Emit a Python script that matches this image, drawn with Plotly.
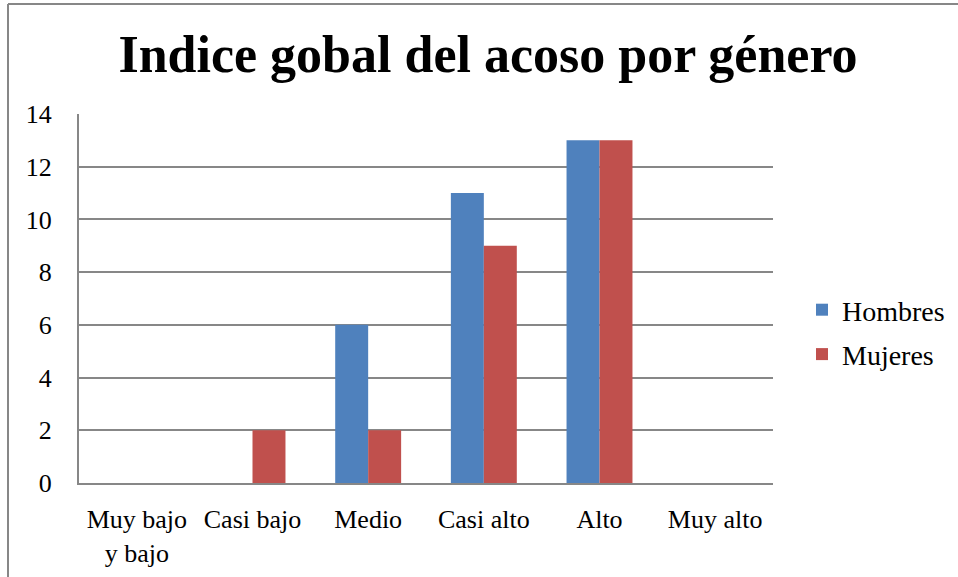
import plotly.graph_objects as go

categories = ["Muy bajo<br>y bajo", "Casi bajo", "Medio", "Casi alto", "Alto", "Muy alto"]
hombres = [0, 0, 6, 11, 13, 0]
mujeres = [0, 2, 2, 9, 13, 0]
y_ticks = [0, 2, 4, 6, 8, 10, 12, 14]

FONT = "Liberation Serif"
W, H = 958, 577
L, R, T, B = 79, 773, 114, 483

fig = go.Figure()
fig.add_trace(go.Bar(x=categories, y=hombres, name="Hombres",
                     marker=dict(color="#4F81BD", line=dict(width=0)),
                     legendgroup="h"))
fig.add_trace(go.Bar(x=categories, y=mujeres, name="Mujeres",
                     marker=dict(color="#C0504D", line=dict(width=0)),
                     legendgroup="m"))

pw = R - L
ph = B - T
def px(x):
    return (x - L) / pw
def py(y):
    return (B - y) / ph

fig.update_layout(
    width=W, height=H,
    margin=dict(l=L, r=W - R, t=T, b=H - B, pad=0, autoexpand=False),
    paper_bgcolor="white", plot_bgcolor="white",
    barmode="group", bargap=0.43, bargroupgap=0,
    font=dict(family=FONT, color="black", size=26),
    title=dict(text="<b>Indice gobal del acoso por género</b>",
               font=dict(family=FONT, size=52, color="black"),
               x=488 / W, xanchor="center", xref="container",
               y=1 - 54 / H, yanchor="middle"),
    legend=dict(x=px(802), xanchor="left", y=py(332), yanchor="middle",
                font=dict(family=FONT, size=28, color="black"),
                traceorder="grouped", tracegroupgap=5,
                itemwidth=30, bgcolor="rgba(0,0,0,0)"),
    showlegend=True,
    xaxis=dict(showgrid=False, showline=True, linecolor="#878787", linewidth=2,
               ticks="", tickfont=dict(family=FONT, size=26),
               ticklabelstandoff=12, fixedrange=True),
    yaxis=dict(range=[0, 14], tickvals=y_ticks, showgrid=True,
               gridcolor="#878787", gridwidth=2, showline=True,
               linecolor="#878787", linewidth=2, ticks="",
               tickfont=dict(family=FONT, size=26), ticklabelstandoff=20,
               zeroline=False, fixedrange=True),
    shapes=[
        dict(type="line", xref="paper", yref="paper",
             x0=px(8), x1=px(8), y0=py(4), y1=py(600),
             line=dict(color="#878787", width=2)),
        dict(type="line", xref="paper", yref="paper",
             x0=px(8), x1=px(970), y0=py(4), y1=py(4),
             line=dict(color="#878787", width=2)),
    ],
)

fig.write_html("out.html", config={"displayModeBar": False},
               post_script="document.body.style.margin='0';")
